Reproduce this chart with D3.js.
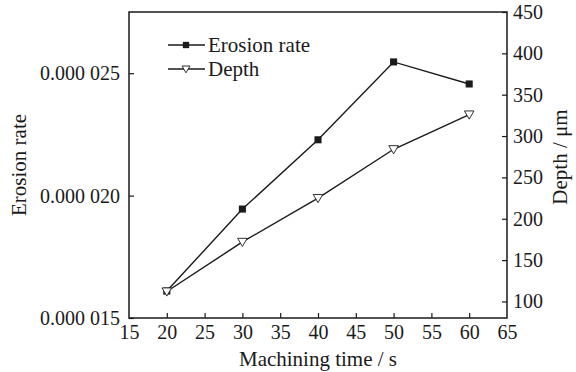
<!DOCTYPE html>
<html>
<head>
<meta charset="utf-8">
<script src="https://cdn.jsdelivr.net/npm/d3@7"></script>
<style>
  body { margin: 0; background: #fff; }
  text { font-family: "Liberation Serif", "Times New Roman", serif; fill: #1a1a1a; }
</style>
</head>
<body>
<div id="chart"></div>
<script>
// data
var times = [20, 30, 40, 50, 60];
var erosionRate = [0.0000161, 0.00001945, 0.00002228, 0.00002546, 0.00002456];
var depth = [112, 172, 225, 284, 326];
var xTicks = [15, 20, 25, 30, 35, 40, 45, 50, 55, 60, 65];
var leftTicks = [0.000015, 0.000020, 0.000025];
var rightTicks = [100, 150, 200, 250, 300, 350, 400, 450];

var width = 576, height = 372;
var margin = { top: 12, right: 69, bottom: 54, left: 129 };
var innerW = width - margin.left - margin.right;
var innerH = height - margin.top - margin.bottom;
var ink = "#1a1a1a";

var svg = d3.select("#chart").append("svg")
  .attr("width", width)
  .attr("height", height);

var g = svg.append("g")
  .attr("transform", "translate(" + margin.left + "," + margin.top + ")");

var x = d3.scaleLinear().domain([15, 65]).range([0, innerW]);
var yL = d3.scaleLinear().domain([0.000015, 0.0000275]).range([innerH, 0]);
var yR = d3.scaleLinear().domain([80, 450]).range([innerH, 0]);

// format like "0.000 025"
function sciSpace(d) {
  var s = d3.format(".6f")(d);
  return s.slice(0, 5) + " " + s.slice(5);
}

// axes, ticks pointing inward
var xAxis = g.append("g")
  .attr("transform", "translate(0," + innerH + ")")
  .call(d3.axisBottom(x).tickValues(xTicks).tickSize(-5).tickPadding(7).tickFormat(d3.format("d")));

var lAxis = g.append("g")
  .call(d3.axisLeft(yL).tickValues(leftTicks).tickSize(-5).tickPadding(9).tickFormat(sciSpace));

var rAxis = g.append("g")
  .attr("transform", "translate(" + innerW + ",0)")
  .call(d3.axisRight(yR).tickValues(rightTicks).tickSize(-5).tickPadding(6).tickFormat(d3.format("d")));

[xAxis, lAxis, rAxis].forEach(function (a) {
  a.select(".domain").remove();
  a.selectAll("line").attr("stroke", ink).attr("stroke-width", 1.2);
  a.selectAll("text").style("font-size", "20px").attr("fill", ink);
});
// the 15 and 65 ticks sit on the frame corners
xAxis.selectAll(".tick").filter(function (d) { return d === 15 || d === 65; }).select("line").remove();

// frame
g.append("rect")
  .attr("x", 0).attr("y", 0)
  .attr("width", innerW).attr("height", innerH)
  .attr("fill", "none")
  .attr("stroke", ink)
  .attr("stroke-width", 1.5);

// erosion rate line + squares
var lineL = d3.line()
  .x(function (d, i) { return x(times[i]); })
  .y(function (d) { return yL(d); });

g.append("path")
  .datum(erosionRate)
  .attr("d", lineL)
  .attr("fill", "none")
  .attr("stroke", ink)
  .attr("stroke-width", 1.4);

// depth line + triangles
var lineR = d3.line()
  .x(function (d, i) { return x(times[i]); })
  .y(function (d) { return yR(d); });

g.append("path")
  .datum(depth)
  .attr("d", lineR)
  .attr("fill", "none")
  .attr("stroke", ink)
  .attr("stroke-width", 1.4);

var sq = d3.symbol().type(d3.symbolSquare).size(50);
var tri = function (s) {
  // downward triangle
  return "M" + (-s) + "," + (-s * 0.75) + "L" + s + "," + (-s * 0.75) + "L0," + (s * 0.95) + "Z";
};

g.selectAll(".sq")
  .data(erosionRate)
  .enter().append("path")
  .attr("class", "sq")
  .attr("d", sq)
  .attr("transform", function (d, i) { return "translate(" + x(times[i]) + "," + yL(d) + ")"; })
  .attr("fill", ink);

g.selectAll(".tri")
  .data(depth)
  .enter().append("path")
  .attr("class", "tri")
  .attr("d", tri(4.8))
  .attr("transform", function (d, i) { return "translate(" + x(times[i]) + "," + yR(d) + ")"; })
  .attr("fill", "#fff")
  .attr("stroke", ink)
  .attr("stroke-width", 0.9);

// legend
var legend = svg.append("g").attr("transform", "translate(168,45)");
var items = [{ name: "Erosion rate", mark: "sq" }, { name: "Depth", mark: "tri" }];
items.forEach(function (it, i) {
  var row = legend.append("g").attr("transform", "translate(0," + (i * 24) + ")");
  row.append("line")
    .attr("x1", 0).attr("x2", 37).attr("y1", 0).attr("y2", 0)
    .attr("stroke", ink).attr("stroke-width", 1.4);
  if (it.mark === "sq") {
    row.append("path").attr("d", d3.symbol().type(d3.symbolSquare).size(40))
      .attr("transform", "translate(18,0)").attr("fill", ink);
  } else {
    row.append("path").attr("d", tri(4))
      .attr("transform", "translate(18,0)")
      .attr("fill", "#fff").attr("stroke", ink).attr("stroke-width", 0.9);
  }
  row.append("text")
    .attr("x", 40).attr("y", 7)
    .style("font-size", "21px")
    .text(it.name);
});

// axis titles
svg.append("text")
  .attr("transform", "translate(" + (margin.left + innerW / 2) + ",366)")
  .attr("text-anchor", "middle")
  .style("font-size", "21px")
  .text("Machining time / s");

svg.append("text")
  .attr("transform", "translate(26,165) rotate(-90)")
  .attr("text-anchor", "middle")
  .style("font-size", "21px")
  .text("Erosion rate");

svg.append("text")
  .attr("transform", "translate(567,157) rotate(-90)")
  .attr("text-anchor", "middle")
  .style("font-size", "21px")
  .text("Depth / \u03bcm");
</script>
</body>
</html>
